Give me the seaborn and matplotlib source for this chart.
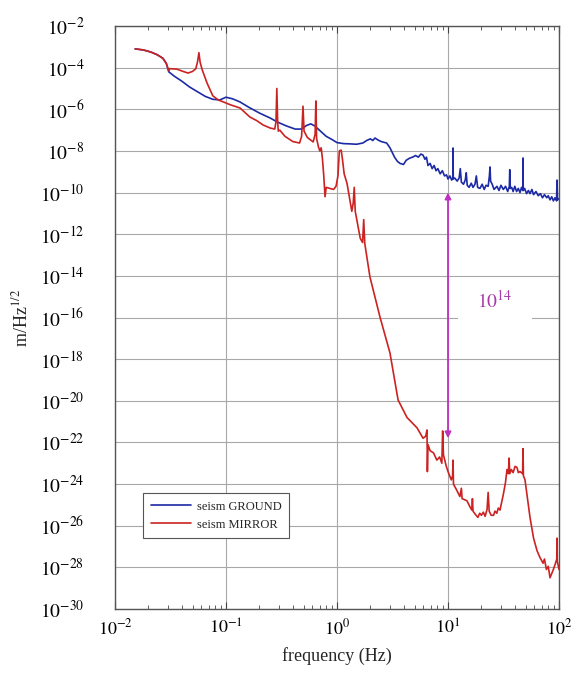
import numpy as np
import pandas as pd
import matplotlib
matplotlib.use("Agg")
import matplotlib.pyplot as plt
from matplotlib.patches import Rectangle
import seaborn as sns

# Seismic noise amplitude spectral density: ground vs. suspended mirror
ground_freq = [
    0.0152, 0.018, 0.021, 0.024, 0.027, 0.029, 0.0305, 0.034, 0.040, 0.047,
    0.055, 0.065, 0.076, 0.088, 0.100, 0.115, 0.134, 0.16, 0.20, 0.25,
    0.29, 0.35, 0.42, 0.48, 0.53, 0.58, 0.63, 0.70, 0.80, 0.90,
    1.0, 1.15, 1.3, 1.5, 1.71, 1.85, 2.0, 2.1, 2.2, 2.35,
    2.5, 2.8, 3.0, 3.3, 3.5, 3.7, 3.97, 4.2, 4.5, 4.84,
    5.1, 5.4, 5.7, 5.96, 6.2, 6.4, 6.6, 6.9, 7.2, 7.5,
    7.8, 8.1, 8.5, 8.9, 9.3, 9.7, 10.0, 10.4, 10.8, 11.05,
    11.1, 11.15, 11.5, 12.1, 12.6, 12.9, 13.2, 13.8, 14.3, 14.6,
    14.9, 15.5, 16.2, 16.8, 17.5, 18.0, 18.5, 19.4, 20.3, 21.2,
    22.0, 23.0, 23.6, 23.9, 24.2, 25.0, 26.0, 27.6, 28.8, 30.0,
    31.5, 33.0, 34.5, 35.7, 36.0, 36.4, 37.5, 38.6, 40.0, 41.5,
    43.0, 44.5, 46.0, 47.2, 47.4, 47.6, 49.0, 51.0, 53.0, 54.8,
    57.0, 59.0, 62.0, 65.0, 68.0, 71.0, 74.0, 77.6, 80.0, 83.0,
    86.0, 89.0, 92.0, 95.0, 96.0, 97.0, 100.0,
]
ground_log_asd = [
    -3.10, -3.15, -3.25, -3.38, -3.55, -3.80, -4.20, -4.40, -4.65, -4.93,
    -5.15, -5.38, -5.52, -5.55, -5.42, -5.50, -5.65, -5.90, -6.18, -6.42,
    -6.61, -6.80, -6.95, -6.95, -6.78, -6.70, -6.80, -7.02, -7.30, -7.45,
    -7.60, -7.65, -7.66, -7.68, -7.62, -7.50, -7.42, -7.50, -7.38, -7.48,
    -7.55, -7.62, -7.85, -8.30, -8.50, -8.60, -8.65, -8.45, -8.35, -8.29,
    -8.22, -8.30, -8.15, -8.20, -8.40, -8.30, -8.70, -8.60, -8.85, -8.70,
    -8.95, -8.85, -9.10, -8.95, -9.20, -9.15, -9.35, -9.20, -9.40, -9.30,
    -7.86, -9.35, -9.30, -9.45, -9.30, -8.85, -9.50, -9.60, -9.40, -9.05,
    -9.65, -9.75, -9.55, -9.75, -9.60, -9.20, -9.75, -9.80, -9.60, -9.85,
    -9.65, -9.70, -9.20, -8.77, -9.45, -9.60, -9.85, -9.70, -9.90, -9.65,
    -9.85, -9.70, -9.95, -9.70, -8.90, -9.80, -9.75, -9.95, -9.70, -9.95,
    -9.80, -10.00, -9.75, -9.90, -8.34, -9.90, -9.80, -10.05, -9.90, -10.05,
    -9.85, -10.10, -9.95, -10.15, -10.05, -10.25, -10.10, -10.25, -10.15, -10.35,
    -10.20, -10.40, -10.25, -10.40, -9.40, -10.35, -10.30,
]

mirror_freq = [
    0.0152, 0.018, 0.021, 0.024, 0.027, 0.029, 0.0305, 0.031, 0.036, 0.041,
    0.0455, 0.050, 0.0535, 0.0555, 0.057, 0.0585, 0.061, 0.0675, 0.076, 0.085,
    0.095, 0.109, 0.134, 0.164, 0.19, 0.215, 0.25, 0.275, 0.282, 0.287,
    0.292, 0.296, 0.305, 0.34, 0.40, 0.46, 0.48, 0.494, 0.505, 0.54,
    0.61, 0.635, 0.645, 0.655, 0.68, 0.70, 0.72, 0.74, 0.76, 0.78,
    0.80, 0.86, 0.93, 0.98, 1.02, 1.05, 1.09, 1.12, 1.16, 1.23,
    1.30, 1.36, 1.40, 1.43, 1.46, 1.52, 1.62, 1.70, 1.74, 1.78,
    1.98, 2.44, 3.0, 3.55, 4.27, 5.26, 5.6, 5.96, 6.3, 6.47,
    6.52, 6.6, 6.9, 7.4, 7.94, 8.4, 8.8, 8.95, 9.1, 9.6,
    10.0, 10.7, 11.0, 11.1, 11.2, 12.0, 12.8, 13.2, 13.4, 14.8,
    15.8, 16.4, 16.6, 16.8, 17.6, 18.6, 19.3, 20.0, 20.8, 21.6,
    22.5, 23.0, 23.5, 24.5, 25.7, 26.5, 27.5, 28.4, 29.4, 31.5,
    33.0, 34.0, 35.0, 35.5, 36.0, 37.2, 38.6, 40.2, 41.8, 43.0,
    44.5, 47.0, 47.4, 47.8, 49.4, 52.0, 54.8, 59.0, 63.4, 67.0,
    71.8, 74.0, 77.0, 80.0, 83.0, 86.0, 89.0, 93.0, 95.5, 96.0,
    96.5, 100.0,
]
mirror_log_asd = [
    -3.10, -3.15, -3.25, -3.38, -3.55, -3.80, -4.15, -4.05, -4.07, -4.18,
    -4.26, -4.18, -4.05, -3.70, -3.28, -3.75, -4.10, -4.74, -5.35, -5.55,
    -5.65, -5.78, -5.94, -6.37, -6.55, -6.75, -6.90, -6.95, -6.60, -5.00,
    -6.60, -7.05, -7.00, -7.30, -7.55, -7.62, -7.30, -5.85, -7.05, -7.35,
    -7.57, -7.20, -5.60, -7.40, -7.80, -8.00, -7.85, -8.40, -9.20, -10.20,
    -9.75, -9.80, -9.85, -9.70, -9.20, -8.00, -7.96, -8.40, -9.10, -9.55,
    -10.30, -10.90, -10.50, -9.75, -10.90, -11.40, -12.20, -12.40, -11.30, -12.45,
    -14.05, -15.98, -17.70, -19.96, -20.80, -21.30, -21.55, -21.80, -21.70, -21.40,
    -23.40, -22.10, -22.40, -22.50, -22.85, -22.70, -23.00, -21.45, -22.60, -23.10,
    -23.40, -23.80, -23.60, -22.85, -24.00, -24.30, -24.60, -24.20, -24.70, -24.80,
    -25.10, -25.25, -24.70, -25.30, -25.45, -25.60, -25.40, -25.50, -25.35, -25.55,
    -25.20, -24.40, -25.30, -25.50, -25.50, -25.30, -25.40, -25.15, -25.25, -24.50,
    -23.90, -23.30, -23.50, -22.75, -23.50, -23.30, -23.45, -23.15, -23.20, -23.45,
    -23.40, -23.50, -22.30, -23.60, -23.80, -24.70, -25.60, -26.60, -27.20, -27.50,
    -27.80, -27.60, -28.10, -27.95, -28.50, -28.30, -28.10, -27.80, -27.60, -26.60,
    -27.70, -28.10,
]

series_names = ["seism GROUND", "seism MIRROR"]
series_colors = ["#1c2aa6", "#cc2222"]

y_exponents = list(range(-30, -1, 2))
x_exponents = [-2, -1, 0, 1, 2]

# 10 Hz attenuation marker
marker_freq = 10.0
marker_top = 1e-10
marker_bottom = 10 ** -21.8
marker_label = r"$10^{14}$"

df = pd.concat([
    pd.DataFrame({"frequency": ground_freq,
                  "asd": 10.0 ** np.array(ground_log_asd),
                  "series": series_names[0]}),
    pd.DataFrame({"frequency": mirror_freq,
                  "asd": 10.0 ** np.array(mirror_log_asd),
                  "series": series_names[1]}),
], ignore_index=True)

sns.set_style("ticks")
plt.rcParams["font.family"] = ["Liberation Serif", "DejaVu Serif"]
plt.rcParams["mathtext.fontset"] = "stix"

fig = plt.figure(figsize=(5.71, 6.73), dpi=100)
ax = fig.add_axes([115 / 571, 1 - 609 / 673, 444 / 571, 583 / 673])

sns.lineplot(data=df, x="frequency", y="asd", hue="series",
             hue_order=series_names, palette=series_colors,
             estimator=None, sort=False, linewidth=1.2, ax=ax)

ax.set_xscale("log")
ax.set_yscale("log")
ax.set_xlim(1e-2, 1e2)
ax.set_ylim(1e-30, 1e-2)

ax.set_yticks([10.0 ** e for e in y_exponents])
ax.set_yticklabels([r"$10^{%d}$" % e for e in y_exponents])
ax.set_xticks([10.0 ** e for e in x_exponents])
ax.set_xticklabels([r"$10^{%d}$" % e for e in x_exponents])
ax.yaxis.set_minor_locator(matplotlib.ticker.NullLocator())
ax.xaxis.set_minor_locator(matplotlib.ticker.LogLocator(base=10, subs=np.arange(2, 10)))

ax.grid(True, which="major", color="#a8a8a8", linewidth=0.8)
ax.set_axisbelow(True)
ax.tick_params(which="both", direction="in", top=True, right=True, colors="#444444")
ax.tick_params(axis="y", which="major", length=0, pad=22, labelsize=14, labelcolor="black")
ax.tick_params(axis="x", which="major", length=5, pad=7, labelsize=13, labelcolor="black")
ax.tick_params(axis="x", which="minor", length=3)
for s in ax.spines.values():
    s.set_color("#555555")
    s.set_linewidth(1.0)

ax.set_xlabel("frequency (Hz)", fontsize=13, labelpad=6)
ax.set_ylabel(r"m/Hz$^{1/2}$", fontsize=13, labelpad=6)

# white panel behind the ratio label, above the grid but under the arrow
ax.add_patch(Rectangle((12.3, 10 ** -16.4), 57.0 - 12.3, 10 ** -14.45 - 10 ** -16.4,
                       facecolor="white", edgecolor="none", zorder=1.5))
ax.annotate("", xy=(marker_freq, marker_bottom), xytext=(marker_freq, marker_top),
            arrowprops=dict(arrowstyle="<|-|>", color="#c030c0", lw=1.3,
                            mutation_scale=9, shrinkA=0, shrinkB=0), zorder=4)
ax.text(26.5, 10 ** -15.2, marker_label, color="#a83aa8",
        fontsize=14, ha="center", va="center", zorder=4)

leg = ax.legend(loc="upper left", bbox_to_anchor=(143 / 571, 1 - 493 / 673),
                bbox_transform=fig.transFigure, fontsize=9, frameon=True,
                fancybox=False, borderpad=0.6, handlelength=3.2,
                labelspacing=0.5, handletextpad=0.5, borderaxespad=0)
leg.get_frame().set_edgecolor("#555555")
leg.get_frame().set_linewidth(0.8)
leg.get_frame().set_alpha(1)
leg.set_title(None)

fig.savefig("out.png", dpi=100)
